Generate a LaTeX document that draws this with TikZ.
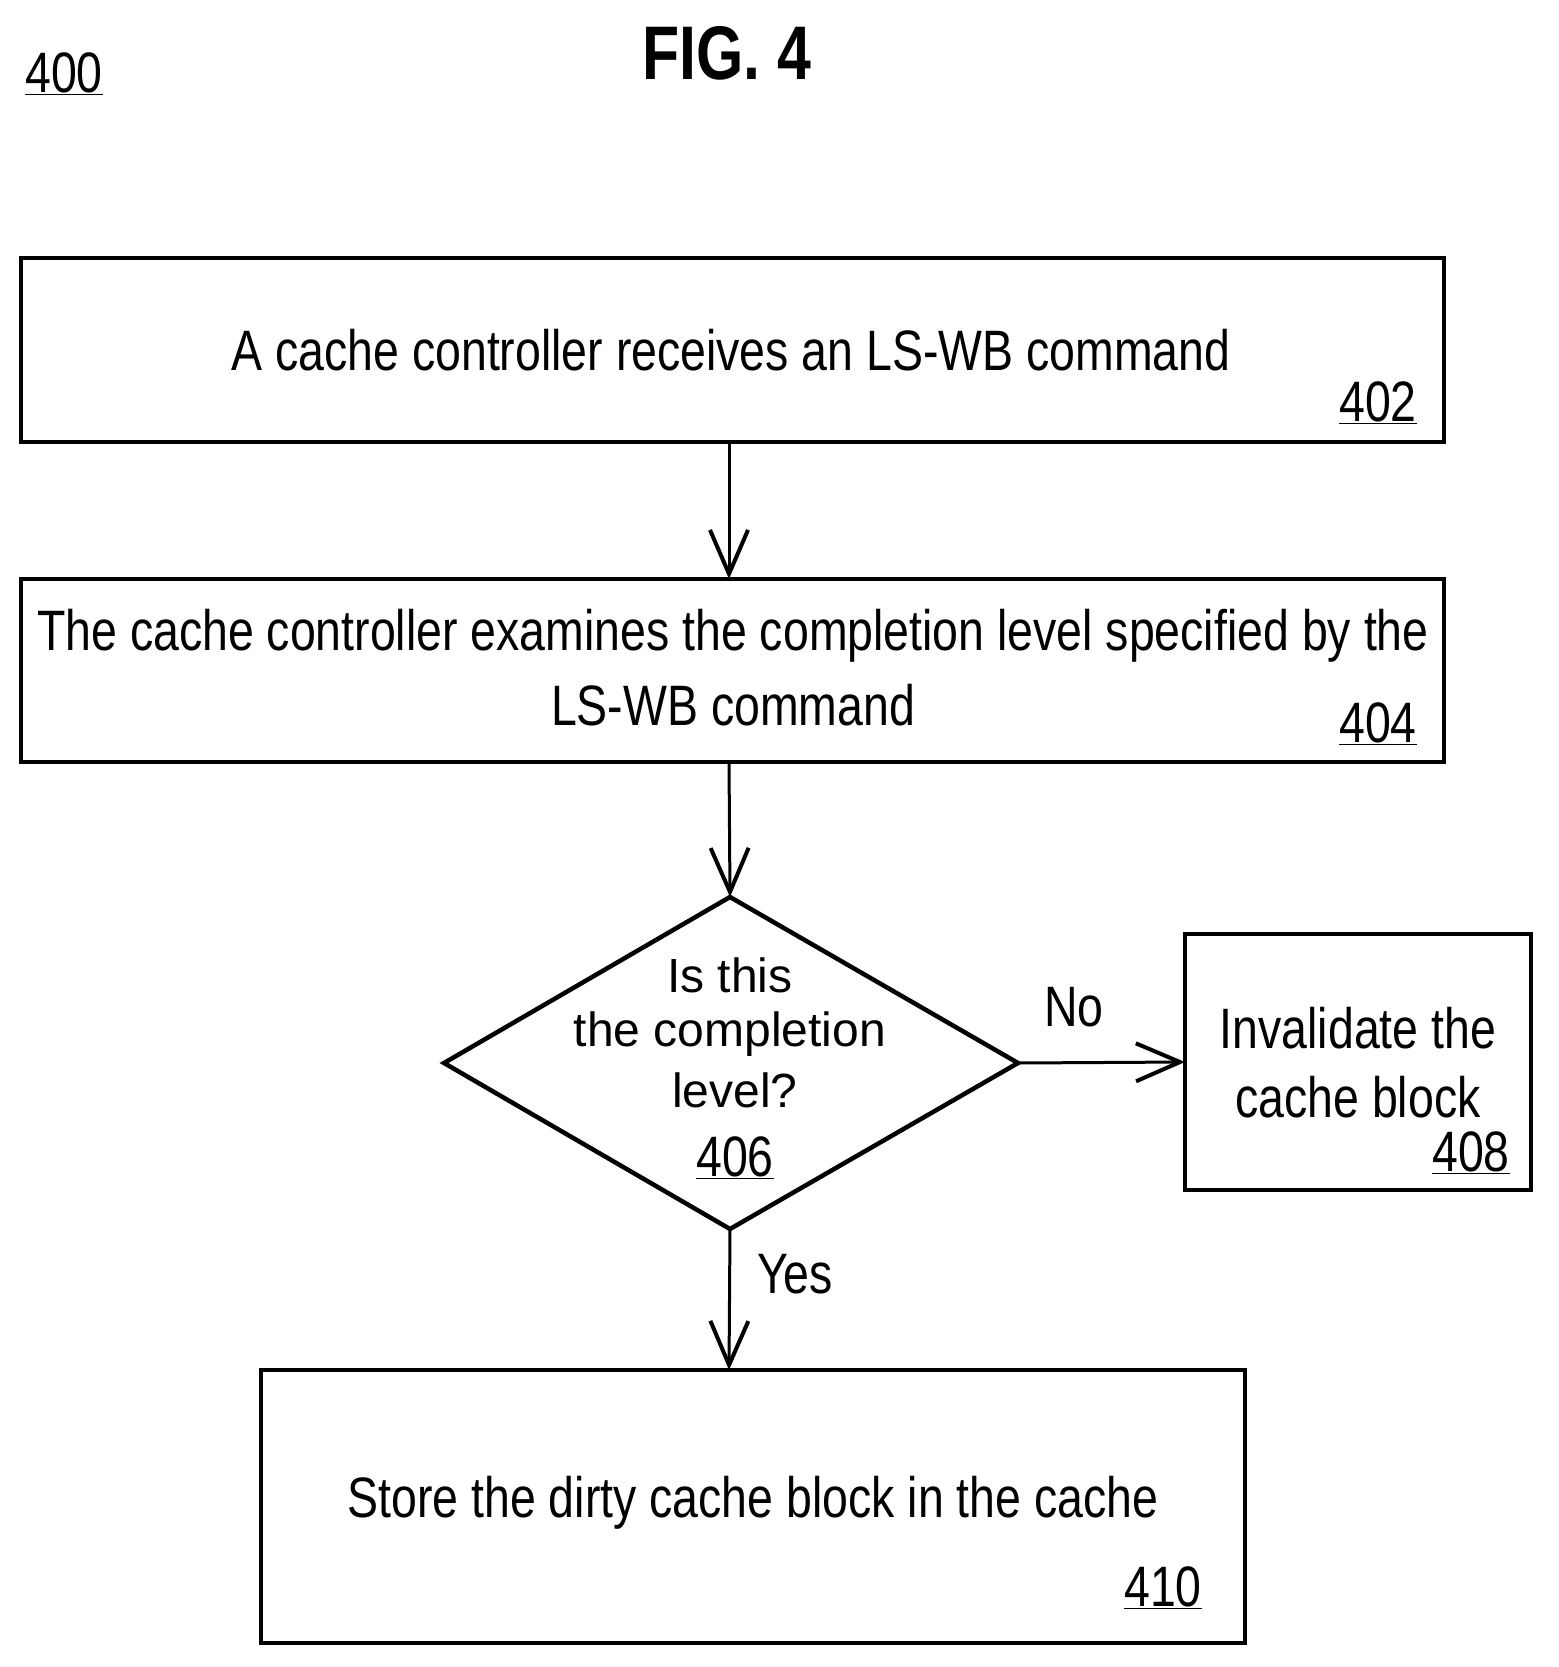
\documentclass[tikz,border=0pt]{standalone}
\usepackage{fontspec}
\setmainfont{Liberation Sans}[FakeStretch=0.815]
\newfontfamily\wide{Liberation Sans}
\newfontfamily\figfont{Liberation Sans}[FakeStretch=0.8]
\usetikzlibrary{arrows.meta}
\begin{document}
\begin{tikzpicture}[x=1pt,y=-1pt,
  box/.style={draw,line width=4.5pt},
  lab/.style={font=\fontsize{57}{64}\selectfont,inner sep=0pt},
  num/.style={font=\fontsize{57}{64}\selectfont,inner sep=0pt},
  dtx/.style={inner sep=0pt,font=\wide\fontsize{48}{54}\selectfont},
  arr/.style={line width=3pt,-{Straight Barb[length=44pt,width=38pt,line width=4pt]}}]
\useasboundingbox (0,0) rectangle (1558,1667);
\node[num] (n400) at (64,74) {\underline{400}};
\node[inner sep=0pt,font=\figfont\bfseries\fontsize{76}{80}\selectfont] (fig) at (727,53) {FIG. 4};
% 402
\draw[box] (21,258) rectangle (1444,442);
\coordinate (b402t) at (729,258); \coordinate (b402b) at (729,442);
\node[lab] (t402) at (731,350) {A cache controller receives an LS-WB command};
\node[num] (n402) at (1378,403) {\underline{402}};
% 404
\draw[box] (21,579) rectangle (1444,762);
\coordinate (b404t) at (729,579); \coordinate (b404b) at (729,762);
\node[lab] (t404a) at (733,636) {The cache controller examines the completion level specified by the};
\node[lab] (t404b) at (733,705) {LS-WB command};
\node[num] (n404) at (1378,724) {\underline{404}};
% diamond
\draw[box] (730,897) coordinate (dt) -- (1018,1063) coordinate (dr) -- (730,1229) coordinate (db) -- (444,1063) coordinate (dl) -- cycle;
\node[dtx] (d1) at (730,975) {Is this};
\node[dtx] (d2) at (730,1034) {the completion};
\node[dtx] (d3) at (735,1090) {level?};
\node[num] (n406) at (735,1158) {\underline{406}};
% 408
\draw[box] (1185,934) rectangle (1531,1190);
\coordinate (b408l) at (1185,1062);
\node[lab] (t408a) at (1358,1028) {Invalidate the};
\node[lab] (t408b) at (1358,1097) {cache block};
\node[num] (n408) at (1471,1153) {\underline{408}};
% 410
\draw[box] (261,1370) rectangle (1245,1643);
\coordinate (b410t) at (729,1370);
\node[lab] (t410) at (753,1503) {Store the dirty cache block in the cache};
\node[num] (n410) at (1163,1588) {\underline{410}};
% arrows
\draw[arr] (b402b) -- (b404t);
\draw[arr] (b404b) -- (dt);
\draw[arr] (dr) -- (b408l);
\draw[arr] (db) -- (b410t);
\node[lab] (no) at (1074,1007) {No};
\node[lab] (yes) at (795,1274) {Yes};
\end{tikzpicture}
\end{document}
